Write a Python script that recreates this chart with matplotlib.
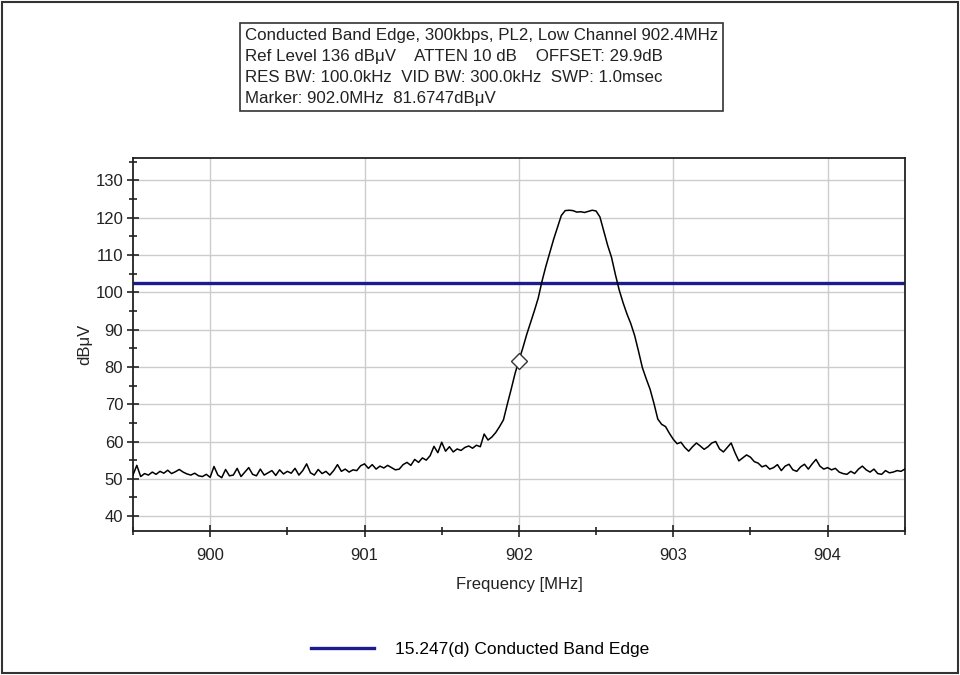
import numpy as np
import matplotlib
matplotlib.use("Agg")
import matplotlib.pyplot as plt
from matplotlib.patches import Rectangle
from matplotlib.ticker import MultipleLocator

plt.rcParams['font.family'] = ['Liberation Sans', 'DejaVu Sans']

# spectrum analyser sweep, 899.5 - 904.5 MHz (0.025 MHz steps), dBuV
levels = [
    51.0, 53.6, 50.6, 51.4, 51.0, 51.8, 51.2, 52.0, 51.5, 52.3,
    51.4, 51.9, 52.5, 51.8, 51.3, 51.0, 51.5, 50.8, 50.6, 51.2,
    50.4, 53.3, 51.0, 50.3, 52.5, 50.8, 51.0, 52.8, 50.6, 51.8,
    53.0, 51.2, 50.8, 52.6, 51.0, 51.6, 52.2, 50.9, 52.4, 51.3,
    52.0, 51.5, 52.8, 51.0, 52.2, 54.0, 51.6, 51.0, 52.5, 51.4,
    52.0, 51.0, 52.2, 53.8, 52.0, 52.6, 51.8, 52.4, 52.2, 53.5,
    54.0, 52.8, 53.8, 52.6, 53.4, 52.9, 53.6, 53.0, 52.4, 52.6,
    53.8, 54.4, 53.6, 55.2, 54.4, 55.6, 55.0, 56.2, 58.7, 57.0,
    59.8, 57.4, 58.6, 57.2, 58.0, 57.6, 58.4, 58.8, 58.2, 59.0,
    58.6, 62.0, 60.4, 61.2, 62.4, 64.0, 65.8, 70.0, 74.0, 78.2,
    81.7, 85.0, 88.6, 91.8, 95.0, 98.4, 103.0, 107.0, 110.6, 114.2,
    117.4, 120.6, 121.9, 122.0, 121.9, 121.5, 121.6, 121.4, 121.7, 122.0,
    121.8, 120.2, 116.4, 112.6, 109.4, 104.8, 100.6, 97.2, 94.2, 91.6,
    88.4, 84.2, 79.8, 76.8, 74.0, 70.2, 66.0, 64.6, 64.0, 62.2,
    60.6, 59.4, 59.8, 58.4, 57.4, 58.6, 59.6, 58.8, 57.9, 58.6,
    59.6, 60.0, 58.0, 57.2, 58.4, 59.6, 57.0, 54.8, 55.6, 56.4,
    55.8, 54.6, 54.2, 53.2, 53.6, 52.6, 53.0, 53.8, 52.2, 53.4,
    53.9, 52.4, 52.0, 53.2, 53.9, 52.6, 54.0, 55.2, 53.4, 52.6,
    53.0, 52.4, 52.8, 51.8, 51.4, 51.2, 52.0, 51.4, 52.6, 53.4,
    52.4, 51.8, 52.6, 51.4, 51.2, 52.2, 51.6, 51.8, 52.2, 52.0,
    52.6,
]
freq_start, freq_stop = 899.5, 904.5
freqs = np.linspace(freq_start, freq_stop, len(levels))

limit_level = 102.6
limit_label = "15.247(d) Conducted Band Edge"
marker_freq, marker_level = 902.0, 81.6747

info_lines = [
    "Conducted Band Edge, 300kbps, PL2, Low Channel 902.4MHz",
    "Ref Level 136 dB\u03bcV    ATTEN 10 dB    OFFSET: 29.9dB",
    "RES BW: 100.0kHz  VID BW: 300.0kHz  SWP: 1.0msec",
    "Marker: 902.0MHz  81.6747dB\u03bcV",
]

fig = plt.figure(figsize=(9.6, 6.75), dpi=100)
ax = fig.add_axes([0.1385, 0.2133, 0.804, 0.5526])

ax.plot(freqs, levels, color='black', lw=1.1, zorder=3)
ax.axhline(limit_level, color='#1c1c8e', lw=2.4, zorder=2, label=limit_label)
ax.plot(marker_freq, marker_level, marker='D', ms=8, mfc='white', mec='#333333',
        mew=1.0, zorder=4)

ax.set_xlim(freq_start, freq_stop)
ax.set_ylim(36, 136)
ax.xaxis.set_major_locator(MultipleLocator(1))
ax.xaxis.set_minor_locator(MultipleLocator(0.5))
ax.yaxis.set_major_locator(MultipleLocator(10))
ax.yaxis.set_minor_locator(MultipleLocator(5))
ax.set_yticks(range(40, 131, 10))

ax.grid(True, which='major', color='#cccccc', lw=1.0, zorder=0)
ax.set_axisbelow(True)
for s in ax.spines.values():
    s.set_color('#222222')
    s.set_linewidth(1.3)
ax.tick_params(which='major', direction='inout', length=8, width=1.2,
               labelsize=12, colors='#222222', pad=3)
ax.tick_params(which='minor', direction='inout', length=6, width=1.2,
               colors='#222222')
ax.tick_params(axis='x', pad=8)

ax.set_xlabel("Frequency [MHz]", fontsize=12, color='#222222', labelpad=10)
ax.set_ylabel("dB\u03bcV", fontsize=12, color='#222222', labelpad=2)

# info box above the plot
fig.text(245 / 960, 1 - 67 / 675, "\n".join(info_lines), fontsize=12.2,
         color='#222222', va='center', ha='left', linespacing=1.5,
         bbox=dict(boxstyle='square,pad=0.3', fc='white', ec='#333333', lw=1.2))

fig.legend(loc='center', bbox_to_anchor=(0.5, 1 - 649 / 675), frameon=False,
           fontsize=12.5, handlelength=3.6, handletextpad=1.2)

# outer frame of the picture
fig.patches.append(Rectangle((0.002, 0.003), 0.996, 0.994, transform=fig.transFigure,
                             fill=False, ec='#333333', lw=1.5))

fig.savefig("out.png", dpi=100, facecolor='white')
